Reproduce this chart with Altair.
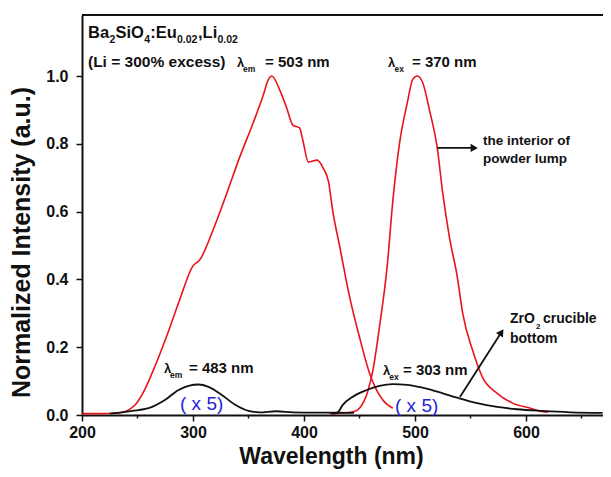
import altair as alt
import pandas as pd

# ---------------- data ----------------
# red: excitation spectrum (lambda_em = 503 nm), interior of powder lump
ex_nm = [200, 215, 230, 236, 242, 248, 255, 264, 276, 288, 300, 306, 318, 330, 342,
         354, 363, 368, 371, 378, 384, 390, 396, 399, 404, 412, 417, 422, 426, 432,
         441, 450, 459, 471, 480]
ex_v = [0.004, 0.004, 0.005, 0.008, 0.015, 0.03, 0.065, 0.13, 0.23, 0.34, 0.44, 0.457,
        0.545, 0.65, 0.76, 0.86, 0.94, 0.99, 1.0, 0.96, 0.91, 0.855, 0.847, 0.81, 0.746,
        0.752, 0.73, 0.69, 0.60, 0.50, 0.35, 0.23, 0.124, 0.044, 0.02]

# red: emission spectrum (lambda_ex = 370 nm)
em_nm = [423, 432, 445, 450, 457, 462, 468, 475, 480, 486, 493, 498, 502, 507, 513,
         520, 525, 531, 538, 543, 552, 561, 574, 588, 604, 615, 620]
em_v = [0.004, 0.005, 0.01, 0.02, 0.065, 0.13, 0.26, 0.44, 0.63, 0.80, 0.92, 0.99, 1.0,
        0.98, 0.90, 0.79, 0.655, 0.525, 0.41, 0.30, 0.19, 0.11, 0.064, 0.035, 0.02,
        0.01, 0.008]

# black: ZrO2 crucible bottom, excitation (lambda_em = 483 nm), x5
bx_nm = [225, 232, 245, 260, 275, 287, 296, 305, 314, 326, 338, 350, 360, 375, 390,
         410, 430, 445]
bx_v = [0.004, 0.006, 0.012, 0.02, 0.045, 0.074, 0.086, 0.09, 0.083, 0.059, 0.03, 0.012,
        0.008, 0.011, 0.008, 0.007, 0.007, 0.006]

# black: ZrO2 crucible bottom, emission (lambda_ex = 303 nm), x5
bm_nm = [425, 430, 435, 444, 456, 468, 480, 493, 505, 520, 538, 556, 574, 592, 615,
         640, 669]
bm_v = [0.004, 0.007, 0.03, 0.054, 0.073, 0.086, 0.091, 0.089, 0.082, 0.069, 0.051,
        0.035, 0.024, 0.017, 0.012, 0.008, 0.006]

x_ticks = [200, 250, 300, 350, 400, 450, 500, 550, 600, 650]
y_ticks = [0.0, 0.1, 0.2, 0.3, 0.4, 0.5, 0.6, 0.7, 0.8, 0.9, 1.0, 1.1]

# ---------------- tables ----------------
def series(name, xs, ys):
    return pd.DataFrame({"series": name, "nm": xs, "v": ys})

red_df = pd.concat([series("ex", ex_nm, ex_v), series("em", em_nm, em_v)])
blk_df = pd.concat([series("zr_ex", bx_nm, bx_v), series("zr_em", bm_nm, bm_v)])

FONT = "Liberation Sans"
RED = "#e8141c"
BLACK = "#111111"
BLUE = "#2323d8"

xs = alt.Scale(domain=[200, 669.4], nice=False, zero=False)
ys = alt.Scale(domain=[0, 1.18], nice=False, zero=False)

x_axis = alt.Axis(
    values=x_ticks, format="d", labelFlush=False, labelOverlap=False,
    labelExpr="datum.value % 100 === 0 ? datum.label : ''",
    tickSize={"condition": {"test": "datum.value % 100 === 0", "value": 6}, "value": 3},
    tickWidth=1.5, tickColor=BLACK, domainColor=BLACK, domainWidth=2,
    labelFont=FONT, labelFontSize=16, labelFontWeight="bold", labelColor=BLACK,
    labelPadding=3, grid=False,
    titleFont=FONT, titleFontSize=23, titleFontWeight="bold", titleColor=BLACK,
    titleX=249, titleY=41.5, titleBaseline="middle", titleAlign="center",
)
y_axis = alt.Axis(
    values=y_ticks, format=".1f", labelFlush=False, labelOverlap=False,
    labelExpr="round(datum.value * 10) % 2 === 0 ? datum.label : ''",
    tickSize={"condition": {"test": "round(datum.value * 10) % 2 === 0", "value": 6}, "value": 3},
    tickWidth=1.5, tickColor=BLACK, domainColor=BLACK, domainWidth=2,
    labelFont=FONT, labelFontSize=16, labelFontWeight="bold", labelColor=BLACK,
    labelPadding=8, grid=False,
    titleFont=FONT, titleFontSize=25, titleFontWeight="bold", titleColor=BLACK,
    titleX=-61, titleY=227, titleBaseline="middle", titleAlign="center", titleAngle=270,
)

X = alt.X("nm:Q", scale=xs, axis=x_axis, title="Wavelength (nm)")
Y = alt.Y("v:Q", scale=ys, axis=y_axis, title="Normalized Intensity (a.u.)")

red = alt.Chart(red_df).mark_line(color=RED, strokeWidth=1.6, interpolate="monotone").encode(
    x=X, y=Y, detail="series:N")
blk = alt.Chart(blk_df).mark_line(color=BLACK, strokeWidth=1.8, interpolate="monotone").encode(
    x="nm:Q", y="v:Q", detail="series:N")

# top frame line
frame = alt.Chart(pd.DataFrame({"a": [0]})).mark_rule(color=BLACK, strokeWidth=2).encode(
    x=alt.value(0), x2=alt.value(521), y=alt.value(0))

# ---------------- annotations (data coordinates: nm, intensity; baseline) ----------------
ann_text = ["Ba", "2", "SiO", "4", ":Eu", "0.02", ",Li", "0.02",
            "(Li = 300% excess)",
            "λ", "em", "= 503 nm",
            "λ", "ex", "= 370 nm",
            "λ", "em", "= 483 nm",
            "λ", "ex", "= 303 nm",
            "the interior of", "powder lump",
            "ZrO", "2", "crucible", "bottom"]
ann_x = [205.4, 224.8, 230.2, 256.1, 261.5, 285.6, 304.5, 322.1,
         205.4,
         339.6, 345.0, 364.9,
         475.7, 481.6, 497.3,
         273.9, 279.3, 296.4,
         471.2, 476.8, 489.2,
         561.3, 561.3,
         585.6, 609.0, 615.3, 585.6]
ann_y = [1.112, 1.097, 1.112, 1.097, 1.112, 1.097, 1.112, 1.097,
         1.027,
         1.027, 1.012, 1.027,
         1.027, 1.012, 1.027,
         0.124, 0.109, 0.124,
         0.118, 0.103, 0.118,
         0.796, 0.743,
         0.271, 0.254, 0.271, 0.212]
ann_size = [16.5, 10.5, 16.5, 10.5, 16.5, 10.5, 16.5, 10.5,
            15.5,
            13, 8.5, 15,
            13, 8.5, 15,
            13, 8.5, 15,
            13, 8.5, 15,
            13.5, 13.5,
            14, 8, 14, 14]
ann_df = pd.DataFrame({"t": ann_text, "nm": ann_x, "v": ann_y, "s": ann_size})

ann = alt.Chart(ann_df).mark_text(
    align="left", baseline="alphabetic", font=FONT, fontWeight="bold", color=BLACK
).encode(x="nm:Q", y="v:Q", text="t:N", size=alt.Size("s:Q", scale=None))

x5_df = pd.DataFrame({"t": ["( x 5)", "( x 5)"], "nm": [288.3, 482.0], "v": [0.031, 0.028]})
x5 = alt.Chart(x5_df).mark_text(
    align="left", baseline="middle", font=FONT, fontSize=19, fontWeight="normal", color=BLUE
).encode(x="nm:Q", y="v:Q", text="t:N")

# arrows
arrow_df = pd.DataFrame({
    "id": ["a", "a", "b", "b"],
    "nm": [519.8, 552.3, 540.5, 577.3],
    "v": [0.788, 0.788, 0.053, 0.241],
})
arrow_lines = alt.Chart(arrow_df).mark_line(color=BLACK, strokeWidth=1.8).encode(
    x="nm:Q", y="v:Q", detail="id:N")
head_df = pd.DataFrame({"nm": [552.3, 577.3], "v": [0.788, 0.241], "ang": [90, 33]})
heads = alt.Chart(head_df).mark_point(shape="triangle", filled=True, color=BLACK,
                                      opacity=1, size=70).encode(
    x="nm:Q", y="v:Q", angle=alt.Angle("ang:Q", scale=None))

chart = alt.layer(red, blk, frame, arrow_lines, heads, ann, x5).properties(
    width=521, height=400,
    padding={"left": 74, "top": 7, "right": 0, "bottom": 54},
    autosize=alt.AutoSizeParams(type="none"),
    background="white",
).configure_view(stroke=None)

chart.save("out.html", embed_options={"renderer": "svg", "actions": False})
